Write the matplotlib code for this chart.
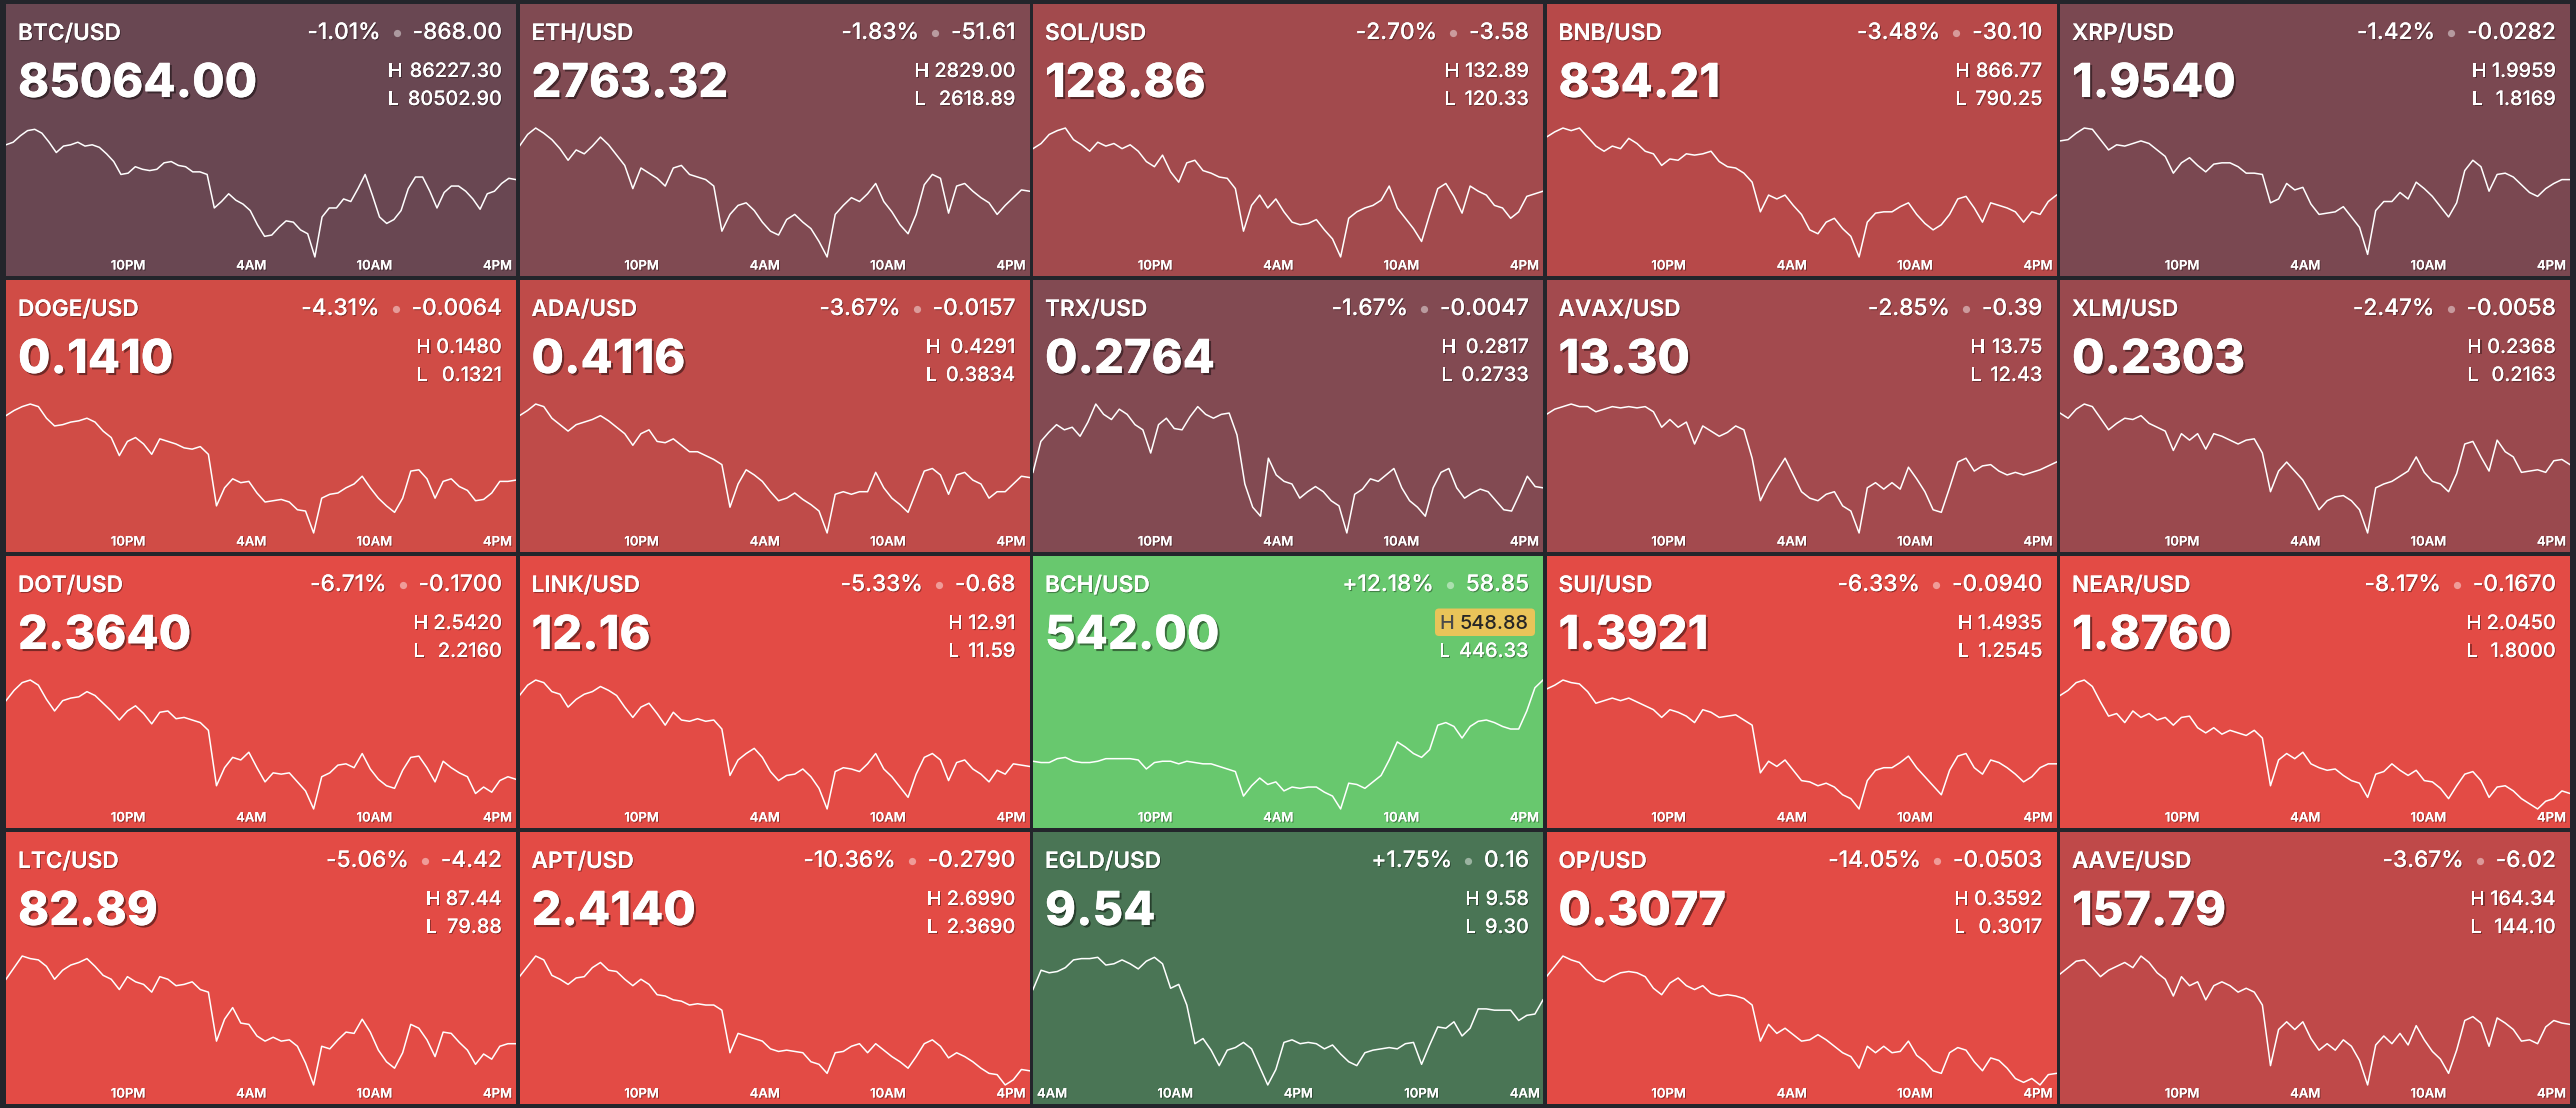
import matplotlib
matplotlib.use('Agg')
import matplotlib.pyplot as plt
from matplotlib import patheffects as pe
from matplotlib.patches import FancyBboxPatch
from matplotlib.transforms import IdentityTransform
import numpy as np

plt.rcParams['font.family'] = ['Inter', 'DejaVu Sans']

# ---- tile data ----
PAIRS = ['BTC/USD', 'ETH/USD', 'SOL/USD', 'BNB/USD', 'XRP/USD',
         'DOGE/USD', 'ADA/USD', 'TRX/USD', 'AVAX/USD', 'XLM/USD',
         'DOT/USD', 'LINK/USD', 'BCH/USD', 'SUI/USD', 'NEAR/USD',
         'LTC/USD', 'APT/USD', 'EGLD/USD', 'OP/USD', 'AAVE/USD']
PRICES = ['85064.00', '2763.32', '128.86', '834.21', '1.9540',
          '0.1410', '0.4116', '0.2764', '13.30', '0.2303',
          '2.3640', '12.16', '542.00', '1.3921', '1.8760',
          '82.89', '2.4140', '9.54', '0.3077', '157.79']
PCT = ['-1.01%', '-1.83%', '-2.70%', '-3.48%', '-1.42%',
       '-4.31%', '-3.67%', '-1.67%', '-2.85%', '-2.47%',
       '-6.71%', '-5.33%', '+12.18%', '-6.33%', '-8.17%',
       '-5.06%', '-10.36%', '+1.75%', '-14.05%', '-3.67%']
CHANGE = ['-868.00', '-51.61', '-3.58', '-30.10', '-0.0282',
          '-0.0064', '-0.0157', '-0.0047', '-0.39', '-0.0058',
          '-0.1700', '-0.68', '58.85', '-0.0940', '-0.1670',
          '-4.42', '-0.2790', '0.16', '-0.0503', '-6.02']
HIGHS = ['86227.30', '2829.00', '132.89', '866.77', '1.9959',
         '0.1480', '0.4291', '0.2817', '13.75', '0.2368',
         '2.5420', '12.91', '548.88', '1.4935', '2.0450',
         '87.44', '2.6990', '9.58', '0.3592', '164.34']
LOWS = ['80502.90', '2618.89', '120.33', '790.25', '1.8169',
        '0.1321', '0.3834', '0.2733', '12.43', '0.2163',
        '2.2160', '11.59', '446.33', '1.2545', '1.8000',
        '79.88', '2.3690', '9.30', '0.3017', '144.10']
NEW_HIGH = [False] * 12 + [True] + [False] * 7

# time axis (hours) and tick labels
DAY_TICK_HOURS = [22, 28, 34, 40]
DAY_TICK_LABELS = ['10PM', '4AM', '10AM', '4PM']
EGLD_TICK_HOURS = [4, 10, 16, 22, 28]
EGLD_TICK_LABELS = ['4AM', '10AM', '4PM', '10PM', '4AM']
START_HOUR = [16.05] * 17 + [3.07] + [16.05] * 2
SPAN_HOURS = 24.85

# price paths, as position within the day's low..high range (0 = low, 100 = high)
BTC = [87, 89, 94, 98, 99, 96, 89, 81, 86, 87, 89, 86, 87, 85, 80, 74, 64, 65, 70, 68, 67, 68, 73, 74,
       71, 70, 66, 66, 64, 38, 43, 49, 44, 41, 36, 25, 16, 17, 23, 28, 27, 21, 18, 0, 31, 38, 38, 45,
       43, 53, 64, 48, 31, 26, 29, 36, 53, 62, 62, 51, 38, 50, 55, 55, 51, 45, 37, 49, 51, 57, 61, 60]
ETH = [86, 95, 100, 96, 91, 84, 75, 83, 80, 86, 93, 87, 79, 71, 53, 69, 65, 61, 55, 69, 71, 64, 62, 60,
       55, 20, 33, 40, 42, 36, 27, 20, 17, 29, 33, 27, 22, 12, 0, 33, 40, 46, 43, 49, 57, 43, 35, 25,
       18, 33, 56, 64, 61, 34, 55, 57, 51, 46, 42, 33, 40, 46, 52, 51]
SOL = [84, 88, 95, 98, 100, 91, 87, 82, 89, 86, 88, 84, 87, 82, 74, 70, 79, 66, 58, 73, 75, 67, 65, 62,
       61, 53, 20, 40, 48, 38, 45, 35, 27, 25, 26, 29, 21, 14, 0, 30, 35, 38, 40, 44, 55, 38, 30, 22,
       12, 33, 53, 57, 47, 34, 55, 51, 48, 40, 38, 30, 35, 47, 49, 51]
BNB = [93, 97, 100, 98, 100, 93, 86, 82, 86, 84, 92, 88, 82, 80, 71, 76, 75, 80, 79, 80, 82, 74, 70, 69,
       65, 58, 35, 48, 45, 48, 40, 33, 21, 18, 27, 30, 22, 16, 0, 27, 34, 35, 35, 39, 42, 33, 26, 21,
       25, 33, 45, 47, 38, 27, 42, 40, 38, 35, 27, 35, 33, 43, 48]
XRP = [90, 91, 96, 100, 99, 91, 83, 87, 86, 88, 90, 88, 83, 78, 65, 73, 77, 71, 66, 72, 73, 73, 70, 65,
       65, 64, 42, 45, 57, 52, 54, 41, 33, 34, 35, 39, 31, 23, 2, 36, 43, 43, 50, 45, 58, 53, 47, 39,
       31, 42, 67, 75, 70, 51, 64, 65, 62, 56, 50, 47, 53, 57, 60, 60]
DOGE = [91, 95, 98, 100, 98, 89, 83, 84, 86, 87, 89, 86, 79, 74, 60, 71, 74, 69, 61, 73, 71, 69, 66, 65,
        67, 61, 21, 35, 42, 39, 40, 31, 24, 25, 26, 24, 18, 17, 0, 27, 30, 31, 35, 38, 44, 35, 27, 21,
        16, 27, 48, 49, 42, 27, 40, 42, 36, 33, 25, 26, 31, 40, 40, 41]
ADA = [91, 95, 100, 98, 89, 84, 79, 84, 86, 88, 91, 87, 82, 77, 68, 77, 80, 71, 70, 73, 68, 63, 63, 60,
       57, 53, 20, 38, 49, 45, 40, 32, 25, 27, 31, 26, 22, 17, 0, 30, 32, 30, 32, 32, 47, 35, 27, 22,
       16, 32, 48, 50, 45, 30, 45, 47, 41, 38, 27, 32, 32, 38, 44, 43]
TRX = [47, 71, 78, 84, 80, 82, 75, 86, 100, 92, 88, 96, 92, 84, 80, 62, 84, 89, 81, 80, 90, 98, 92, 89,
       92, 93, 76, 38, 20, 13, 58, 45, 40, 38, 27, 32, 36, 32, 25, 21, 0, 30, 34, 42, 40, 45, 50, 35,
       25, 20, 13, 35, 47, 50, 35, 27, 31, 34, 32, 25, 18, 17, 30, 44, 36, 35]
AVAX = [92, 96, 98, 100, 98, 98, 94, 96, 98, 97, 98, 97, 98, 94, 82, 88, 82, 86, 69, 83, 79, 75, 78, 83,
        80, 58, 25, 38, 48, 58, 45, 32, 27, 25, 30, 32, 21, 17, 0, 35, 39, 34, 39, 34, 51, 42, 32, 18,
        16, 35, 55, 58, 48, 52, 53, 48, 45, 47, 45, 47, 49, 52, 55]
XLM = [93, 89, 96, 100, 98, 89, 80, 85, 89, 88, 91, 85, 82, 79, 64, 77, 72, 77, 65, 77, 75, 72, 69, 72,
       73, 62, 32, 48, 55, 48, 41, 30, 18, 25, 28, 29, 25, 18, 0, 35, 38, 40, 44, 48, 59, 47, 40, 38,
       32, 46, 69, 71, 59, 48, 72, 63, 59, 47, 48, 49, 47, 56, 57, 53]
DOT = [84, 92, 98, 100, 96, 85, 76, 84, 86, 87, 91, 88, 82, 76, 69, 76, 80, 74, 66, 75, 76, 70, 71, 69,
       67, 61, 18, 32, 40, 38, 44, 32, 21, 28, 27, 28, 21, 14, 0, 25, 28, 34, 35, 32, 43, 31, 23, 18,
       16, 30, 40, 41, 32, 21, 37, 32, 28, 25, 12, 17, 13, 22, 25, 23]
LINK = [88, 96, 100, 98, 91, 89, 79, 85, 89, 91, 95, 92, 88, 79, 71, 79, 82, 74, 65, 75, 69, 68, 70, 68,
        69, 62, 26, 38, 43, 47, 40, 29, 22, 26, 27, 31, 25, 16, 0, 29, 32, 31, 29, 35, 43, 31, 25, 17,
        9, 27, 40, 43, 38, 22, 36, 38, 31, 27, 21, 30, 27, 35, 34, 33]
BCH = [37, 36, 36, 39, 40, 37, 36, 36, 37, 39, 39, 39, 39, 38, 31, 36, 37, 37, 35, 37, 36, 35, 35, 33,
       31, 29, 10, 18, 24, 19, 21, 14, 17, 16, 17, 17, 13, 10, 0, 20, 19, 16, 21, 26, 38, 52, 48, 43,
       40, 46, 65, 67, 64, 55, 64, 68, 69, 67, 64, 62, 62, 76, 94, 100]
SUI = [93, 96, 100, 98, 97, 91, 82, 84, 86, 84, 86, 83, 80, 77, 71, 77, 75, 72, 67, 77, 75, 71, 72, 73,
       69, 65, 28, 37, 33, 38, 30, 22, 21, 18, 20, 17, 11, 8, 0, 22, 30, 32, 32, 36, 41, 32, 25, 18,
       11, 30, 41, 43, 32, 27, 38, 36, 32, 27, 21, 25, 32, 35, 35]
NEAR = [88, 92, 98, 100, 95, 83, 72, 74, 67, 76, 71, 74, 69, 71, 65, 71, 72, 63, 59, 63, 58, 61, 59, 57,
        61, 55, 18, 38, 43, 39, 44, 35, 32, 30, 31, 26, 22, 20, 9, 27, 29, 35, 30, 26, 30, 22, 21, 16,
        8, 18, 27, 29, 22, 9, 17, 18, 14, 8, 4, 0, 6, 8, 14, 12]
LTC = [82, 91, 100, 98, 97, 92, 82, 89, 93, 95, 98, 92, 85, 82, 74, 84, 80, 78, 72, 84, 82, 77, 78, 80,
       74, 72, 34, 51, 60, 48, 47, 38, 34, 37, 34, 35, 30, 17, 0, 30, 28, 35, 41, 40, 51, 41, 27, 18,
       13, 25, 47, 44, 35, 22, 41, 40, 33, 27, 16, 24, 20, 30, 32, 32]
APT = [84, 92, 100, 97, 85, 82, 78, 83, 84, 91, 95, 89, 88, 82, 77, 82, 78, 70, 69, 66, 65, 62, 63, 62,
       62, 58, 25, 40, 38, 36, 34, 28, 26, 27, 26, 25, 18, 16, 9, 25, 26, 30, 32, 25, 32, 27, 22, 18,
       13, 22, 32, 35, 30, 21, 25, 22, 18, 13, 9, 8, 0, 4, 12, 11]
EGLD = [74, 89, 87, 88, 91, 97, 98, 98, 99, 93, 94, 97, 94, 90, 96, 99, 94, 75, 78, 62, 32, 36, 27, 15,
        27, 29, 33, 28, 14, 0, 12, 33, 35, 32, 33, 32, 28, 31, 24, 18, 15, 25, 27, 28, 29, 28, 32, 33,
        16, 31, 45, 44, 49, 38, 44, 59, 59, 58, 58, 58, 50, 54, 55, 66]
OP = [84, 92, 100, 97, 95, 88, 82, 80, 84, 87, 88, 87, 84, 75, 70, 79, 83, 77, 74, 77, 71, 69, 70, 69,
      67, 62, 34, 47, 40, 44, 39, 34, 35, 39, 35, 30, 25, 22, 13, 30, 25, 30, 25, 26, 34, 23, 18, 11,
      9, 25, 29, 27, 18, 11, 21, 19, 13, 5, 2, 5, 0, 8, 9]
AAVE = [86, 91, 96, 97, 91, 84, 89, 92, 95, 91, 100, 95, 87, 82, 69, 84, 77, 80, 66, 77, 80, 77, 72, 75,
        72, 62, 15, 43, 49, 43, 49, 36, 27, 32, 27, 35, 30, 19, 0, 31, 38, 32, 40, 31, 46, 35, 26, 20,
        9, 27, 50, 53, 48, 30, 52, 48, 43, 34, 35, 32, 45, 50, 48, 47]

SERIES = [BTC, ETH, SOL, BNB, XRP, DOGE, ADA, TRX, AVAX, XLM,
          DOT, LINK, BCH, SUI, NEAR, LTC, APT, EGLD, OP, AAVE]

# tile background colours (heat by % change)
TILE_COLORS = ['#694752', '#804a52', '#a24a4d', '#b74949', '#7a4851',
               '#d04c46', '#bf4b49', '#824a52', '#a34a4e', '#9a494e',
               '#e34b45', '#e34b45', '#68c86e', '#e34b45', '#e34b45',
               '#e34b45', '#e34b45', '#4a7555', '#e34b45', '#bf4949']

W, H = 2576, 1108
TW, TH = 510, 272
fig = plt.figure(figsize=(W / 100, H / 100), dpi=100, facecolor='#23252b')
renderer = fig.canvas.get_renderer()

shadow = [pe.withSimplePatchShadow(offset=(0.8, -0.8), shadow_rgbFace='black', alpha=0.35), pe.Normal()]
big_shadow = [pe.withSimplePatchShadow(offset=(1.5, -1.5), shadow_rgbFace='black', alpha=0.45), pe.Normal()]

for k in range(20):
    r, c = divmod(k, 5)
    x0 = 6 + 513.5 * c
    y0 = 4 + 276 * r
    ax = fig.add_axes([x0 / W, 1 - (y0 + TH) / H, TW / W, TH / H])
    ax.set_facecolor(TILE_COLORS[k])
    ax.set_xticks([])
    ax.set_yticks([])
    for s in ax.spines.values():
        s.set_visible(False)

    hi = float(HIGHS[k])
    lo = float(LOWS[k])
    vals = np.array(SERIES[k], dtype=float)
    prices = lo + (hi - lo) * vals / 100.0
    t = np.linspace(0, SPAN_HOURS, len(prices))
    ax.plot(t, prices, color='white', lw=1.1)
    span = hi - lo
    ax.set_xlim(0, SPAN_HOURS)
    ax.set_ylim(lo - span * 0.07 / 0.474, hi + span * 0.456 / 0.474)

    def fx(px):
        return px / TW

    def fy(py):
        return 1 - py / TH

    right = TW - 14
    ax.text(fx(12), fy(36), PAIRS[k], transform=ax.transAxes, fontsize=16.3,
            weight='semibold', color='white', ha='left', va='baseline', path_effects=shadow)
    ax.text(fx(12), fy(93), PRICES[k], transform=ax.transAxes, fontsize=33.8,
            weight='heavy', color='white', ha='left', va='baseline', path_effects=big_shadow)

    # change, dot, percent
    tc = ax.text(fx(right), fy(35), CHANGE[k], transform=ax.transAxes, fontsize=16.3,
                 weight='medium', color='white', ha='right', va='baseline', path_effects=shadow)
    wc = tc.get_window_extent(renderer).width
    ax.plot([fx(right - wc - 16)], [fy(29)], 'o', ms=5.2, color='white', alpha=0.45,
            mec='none', transform=ax.transAxes)
    ax.text(fx(right - wc - 32), fy(35), PCT[k], transform=ax.transAxes, fontsize=16.3,
            weight='medium', color='white', ha='right', va='baseline', path_effects=shadow)

    # high / low
    nh = NEW_HIGH[k]
    th_ = ax.text(fx(right), fy(73), HIGHS[k], transform=ax.transAxes, fontsize=14.3,
                  weight='medium', color='#262626' if nh else 'white', ha='right',
                  va='baseline', path_effects=None if nh else shadow, zorder=4)
    tl = ax.text(fx(right), fy(101), LOWS[k], transform=ax.transAxes, fontsize=14.3,
                 weight='medium', color='white', ha='right', va='baseline',
                 path_effects=shadow, zorder=4)
    wmax = max(th_.get_window_extent(renderer).width, tl.get_window_extent(renderer).width)
    lx = right - wmax - 20
    ax.text(fx(lx), fy(73), 'H', transform=ax.transAxes, fontsize=14.3, weight='medium',
            color='#4a4a4a' if nh else 'white', ha='left', va='baseline',
            path_effects=None if nh else shadow, zorder=4)
    ax.text(fx(lx), fy(101), 'L', transform=ax.transAxes, fontsize=14.3, weight='medium',
            color='white', ha='left', va='baseline', path_effects=shadow, zorder=4)
    if nh:
        box = FancyBboxPatch((x0 + lx - 4, H - (y0 + 80)), right - lx + 10, 27.5,
                             boxstyle='round,pad=0,rounding_size=4',
                             transform=IdentityTransform(), facecolor='#e9c459',
                             edgecolor='none', zorder=3)
        ax.add_patch(box)

    # time labels
    if PAIRS[k] == 'EGLD/USD':
        hours, labels = EGLD_TICK_HOURS, EGLD_TICK_LABELS
    else:
        hours, labels = DAY_TICK_HOURS, DAY_TICK_LABELS
    for hr, lab in zip(hours, labels):
        f = (hr - START_HOUR[k]) / SPAN_HOURS
        ha = 'center'
        if f > 0.985:
            f, ha = 1 - 3 / TW, 'right'
        ax.text(f, fy(265.5), lab, transform=ax.transAxes, fontsize=9.4, weight='semibold',
                color='white', ha=ha, va='baseline', path_effects=shadow)

fig.savefig('out.png', dpi=100, facecolor=fig.get_facecolor())
